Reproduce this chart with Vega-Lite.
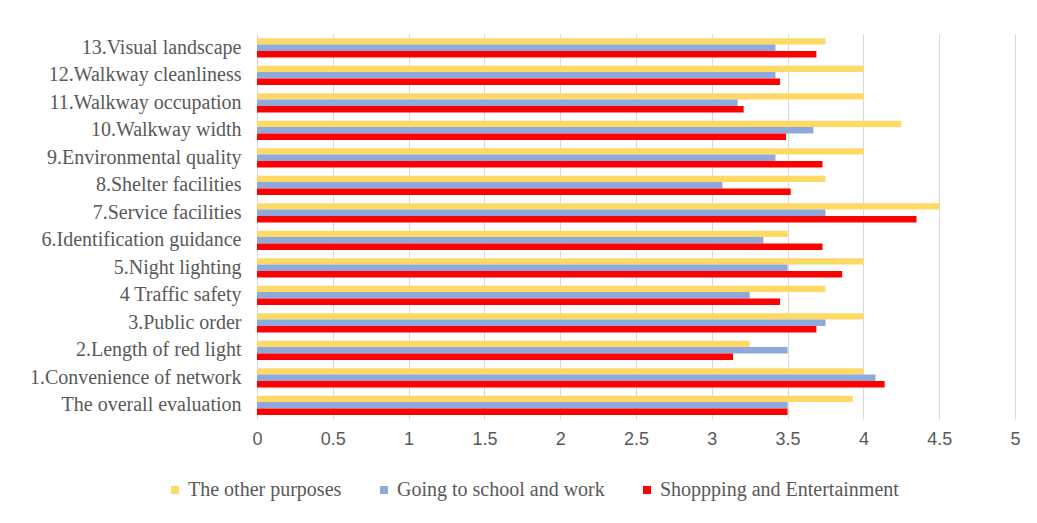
{
  "$schema": "https://vega.github.io/schema/vega-lite/v6.json",
  "autosize": "none",
  "width": 758,
  "height": 385,
  "padding": {"left": 257, "top": 34, "right": 22, "bottom": 104},
  "background": "white",
  "data": {
    "values": [
      {"item": "13.Visual landscape", "purpose": "The other purposes", "score": 3.75},
      {"item": "13.Visual landscape", "purpose": "Going to school and work", "score": 3.42},
      {"item": "13.Visual landscape", "purpose": "Shoppping and Entertainment", "score": 3.69},
      {"item": "12.Walkway cleanliness", "purpose": "The other purposes", "score": 4.0},
      {"item": "12.Walkway cleanliness", "purpose": "Going to school and work", "score": 3.42},
      {"item": "12.Walkway cleanliness", "purpose": "Shoppping and Entertainment", "score": 3.45},
      {"item": "11.Walkway occupation", "purpose": "The other purposes", "score": 4.0},
      {"item": "11.Walkway occupation", "purpose": "Going to school and work", "score": 3.17},
      {"item": "11.Walkway occupation", "purpose": "Shoppping and Entertainment", "score": 3.21},
      {"item": "10.Walkway width", "purpose": "The other purposes", "score": 4.25},
      {"item": "10.Walkway width", "purpose": "Going to school and work", "score": 3.67},
      {"item": "10.Walkway width", "purpose": "Shoppping and Entertainment", "score": 3.49},
      {"item": "9.Environmental quality", "purpose": "The other purposes", "score": 4.0},
      {"item": "9.Environmental quality", "purpose": "Going to school and work", "score": 3.42},
      {"item": "9.Environmental quality", "purpose": "Shoppping and Entertainment", "score": 3.73},
      {"item": "8.Shelter facilities", "purpose": "The other purposes", "score": 3.75},
      {"item": "8.Shelter facilities", "purpose": "Going to school and work", "score": 3.07},
      {"item": "8.Shelter facilities", "purpose": "Shoppping and Entertainment", "score": 3.52},
      {"item": "7.Service facilities", "purpose": "The other purposes", "score": 4.5},
      {"item": "7.Service facilities", "purpose": "Going to school and work", "score": 3.75},
      {"item": "7.Service facilities", "purpose": "Shoppping and Entertainment", "score": 4.35},
      {"item": "6.Identification guidance", "purpose": "The other purposes", "score": 3.5},
      {"item": "6.Identification guidance", "purpose": "Going to school and work", "score": 3.34},
      {"item": "6.Identification guidance", "purpose": "Shoppping and Entertainment", "score": 3.73},
      {"item": "5.Night lighting", "purpose": "The other purposes", "score": 4.0},
      {"item": "5.Night lighting", "purpose": "Going to school and work", "score": 3.5},
      {"item": "5.Night lighting", "purpose": "Shoppping and Entertainment", "score": 3.86},
      {"item": "4 Traffic safety", "purpose": "The other purposes", "score": 3.75},
      {"item": "4 Traffic safety", "purpose": "Going to school and work", "score": 3.25},
      {"item": "4 Traffic safety", "purpose": "Shoppping and Entertainment", "score": 3.45},
      {"item": "3.Public order", "purpose": "The other purposes", "score": 4.0},
      {"item": "3.Public order", "purpose": "Going to school and work", "score": 3.75},
      {"item": "3.Public order", "purpose": "Shoppping and Entertainment", "score": 3.69},
      {"item": "2.Length of red light", "purpose": "The other purposes", "score": 3.25},
      {"item": "2.Length of red light", "purpose": "Going to school and work", "score": 3.5},
      {"item": "2.Length of red light", "purpose": "Shoppping and Entertainment", "score": 3.14},
      {"item": "1.Convenience of network", "purpose": "The other purposes", "score": 4.0},
      {"item": "1.Convenience of network", "purpose": "Going to school and work", "score": 4.08},
      {"item": "1.Convenience of network", "purpose": "Shoppping and Entertainment", "score": 4.14},
      {"item": "The overall evaluation", "purpose": "The other purposes", "score": 3.93},
      {"item": "The overall evaluation", "purpose": "Going to school and work", "score": 3.5},
      {"item": "The overall evaluation", "purpose": "Shoppping and Entertainment", "score": 3.5}
    ]
  },
  "mark": {"type": "bar", "stroke": null},
  "encoding": {
    "y": {
      "field": "item",
      "type": "nominal",
      "sort": null,
      "scale": {"paddingInner": 0.3, "paddingOuter": 0.15},
      "axis": {
        "title": null,
        "domain": false,
        "ticks": false,
        "labelFont": "Liberation Serif",
        "labelFontSize": 20,
        "labelColor": "#595959",
        "labelPadding": 16,
        "labelLimit": 300
      }
    },
    "yOffset": {
      "field": "purpose",
      "type": "nominal",
      "scale": {"domain": ["The other purposes", "Going to school and work", "Shoppping and Entertainment"], "paddingInner": 0}
    },
    "x": {
      "field": "score",
      "type": "quantitative",
      "scale": {"domain": [0, 5], "nice": false},
      "axis": {
        "title": null,
        "values": [0, 0.5, 1, 1.5, 2, 2.5, 3, 3.5, 4, 4.5, 5],
        "format": "~g",
        "domain": false,
        "ticks": false,
        "grid": true,
        "gridColor": "#D9D9D9",
        "gridWidth": 1,
        "labelFlush": false,
        "labelFont": "Liberation Sans",
        "labelFontSize": 18,
        "labelColor": "#595959",
        "labelPadding": 11
      }
    },
    "color": {
      "field": "purpose",
      "type": "nominal",
      "scale": {
        "domain": ["The other purposes", "Going to school and work", "Shoppping and Entertainment"],
        "range": ["#FFD966", "#8EA9DB", "#FF0000"]
      },
      "legend": {
        "title": null,
        "orient": "none",
        "direction": "horizontal",
        "legendX": -92,
        "legendY": 446,
        "symbolType": "square",
        "symbolSize": 64,
        "symbolStrokeWidth": 0,
        "labelFont": "Liberation Serif",
        "labelFontSize": 20,
        "labelColor": "#595959",
        "labelOffset": 3,
        "labelLimit": 400,
        "columnPadding": 32
      }
    }
  },
  "config": {
    "view": {"stroke": null}
  }
}
